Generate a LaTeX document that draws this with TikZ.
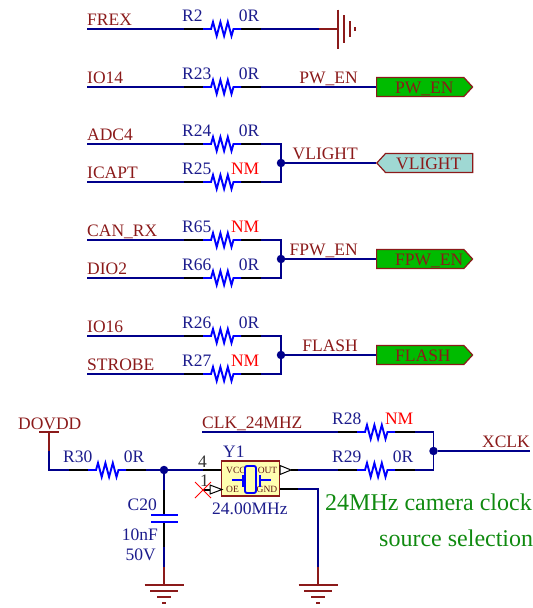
\documentclass[tikz,border=0pt]{standalone}
\usepackage{fontspec}
\setmainfont{Liberation Serif}
\usepackage{xcolor}
\usetikzlibrary{shapes,positioning,calc}
\definecolor{wirecol}{HTML}{00008B}
\definecolor{rescol}{HTML}{0000FF}
\definecolor{netcol}{HTML}{8B1A1A}
\definecolor{partcol}{HTML}{1C1C8C}
\definecolor{flaggreen}{HTML}{00BB00}
\definecolor{flagteal}{HTML}{9FD8D3}
\definecolor{xtalfill}{HTML}{FFFFB0}
\definecolor{notecol}{HTML}{108A10}
\tikzset{
  wire/.style={draw=wirecol,line width=1.9pt},
  lead/.style={draw=black,line width=1.9pt},
  body/.style={draw=rescol,line width=1.9pt},
  pwr/.style={draw=netcol,line width=1.9pt},
  txt/.style={inner sep=0pt,font=\fontsize{17.5}{17.5}\selectfont},
  nettxt/.style={txt,text=netcol},
  parttxt/.style={txt,text=partcol},
  nmtxt/.style={txt,text=red},
  pintxt/.style={inner sep=0pt,text=netcol!70!black,font=\fontsize{9.5}{9.5}\selectfont},
  flag/.style={signal,draw=netcol,line width=1.2pt,inner sep=0pt,minimum width=96pt,minimum height=19pt,
    signal pointer angle=95},
  junct/.style={circle,fill=wirecol,inner sep=0pt,minimum size=8.5pt},
}
% name, x, y, designator, value, value style
\newcommand{\res}[7][2]{
  \coordinate (#2-l) at (#3,#4);
  \coordinate (#2-r) at ($(#2-l)+(77,0)$);
  \draw[lead] (#2-l) -- ++(19,0);
  \draw[lead] (#2-r) -- ++(-20,0);
  \draw[body,line join=miter] ($(#2-l)+(19,0)$) -- ++(8,0) -- ++(2,-7) -- ++(3.7,14) -- ++(3.7,-14) -- ++(3.7,14)
    -- ++(3.7,-14) -- ++(3.7,14) -- ++(2,-7) -- (#2-r -| {$(#2-l)+(57,0)$});
  \node[parttxt,anchor=base west] (#2-des) at ($(#2-l)+(-#1,-8)$) {#5};
  \node[#7,anchor=base east] (#2-val) at ($(#2-l)+(75.5,-8)$) {#6};
}
% name, x, y
\newcommand{\gnd}[3]{
  \coordinate (#1) at (#2,#3);
  \foreach \dy/\hw in {0/19.5,6/14,12/7,18/2}
    \draw[pwr] ($(#1)+(-\hw,\dy)$) -- ($(#1)+(\hw,\dy)$);
}
\begin{document}
\begin{tikzpicture}[x=1pt,y=-1pt]
  \clip (0,0) rectangle (533,608);
  % input rows
  \foreach \rname/\yy/\net/\des/\val/\vst in {r2/29/FREX/R2/0R/parttxt,r23/87/IO14/R23/0R/parttxt,
      r24/144/ADC4/R24/0R/parttxt,r25/182/ICAPT/R25/NM/nmtxt,
      r65/240/CAN\_RX/R65/NM/nmtxt,r66/278/DIO2/R66/0R/parttxt,
      r26/336/IO16/R26/0R/parttxt,r27/374/STROBE/R27/NM/nmtxt} {
    \res{\rname}{184}{\yy}{\des}{\val}{\vst}
    \coordinate (in-\rname) at (87,\yy);
    \node[nettxt,anchor=base west] (net-\rname) at (87,\yy-4) {\net};
    \draw[wire] (in-\rname) -- (\rname-l);
  }
  % ground on the first row
  \coordinate (gtop-w) at (319,29);
  \coordinate (gtop) at (338,29);
  \draw[wire] (r2-r) -- (gtop-w);
  \draw[pwr] (gtop-w) -- (gtop);
  \foreach \dx/\hw in {0/19.5,6/14,12/8,17/2}
    \draw[pwr] ($(gtop)+(\dx,-\hw)$) -- ($(gtop)+(\dx,\hw)$);
  % flags
  \node[flag,signal to=east,anchor=west,fill=flaggreen] (fpw) at (376,87) {};
  \node[flag,signal to=west,anchor=west,fill=flagteal] (fvl) at (376,163) {};
  \node[flag,signal to=east,anchor=west,fill=flaggreen] (ffpw) at (376,259) {};
  \node[flag,signal to=east,anchor=west,fill=flaggreen] (ffl) at (376,355) {};
  \node[nettxt,anchor=base west] (fpw-txt) at (395,93) {PW\_EN};
  \node[nettxt,anchor=base west] (fvl-txt) at (396,169) {VLIGHT};
  \node[nettxt,anchor=base west] (ffpw-txt) at (395,265) {FPW\_EN};
  \node[nettxt,anchor=base west] (ffl-txt) at (395,361) {FLASH};
  \draw[wire] (r23-r) -- (fpw.west);
  \node[nettxt,anchor=base east] (lpw) at (358,83) {PW\_EN};
  \node[junct] (jvl) at (281,163) {};
  \node[junct] (jfpw) at (281,259) {};
  \node[junct] (jfl) at (281,355) {};
  \draw[wire] (r24-r) -| (jvl.center) |- (r25-r);
  \draw[wire] (r65-r) -| (jfpw.center) |- (r66-r);
  \draw[wire] (r26-r) -| (jfl.center) |- (r27-r);
  \draw[wire] (jvl) -- (fvl.west);
  \draw[wire] (jfpw) -- (ffpw.west);
  \draw[wire] (jfl) -- (ffl.west);
  \node[nettxt,anchor=base east] (lvl) at (358,159) {VLIGHT};
  \node[nettxt,anchor=base east] (lfpw) at (358,255) {FPW\_EN};
  \node[nettxt,anchor=base east] (lfl) at (358,351) {FLASH};
  % supply and R30
  \node[nettxt,anchor=base west] (dovdd) at (18,429) {DOVDD};
  \coordinate (dv) at (49,432);
  \coordinate (dv-w) at (49,451);
  \draw[pwr] (39,432) -- (59,432);
  \draw[pwr] (dv) -- (dv-w);
  \res[6]{r30}{69}{470}{R30}{0R}{parttxt}
  \draw[wire] (dv-w) |- (r30-l);
  % C20
  \node[junct] (jc) at (164,470) {};
  \coordinate (c-t) at (164,515);
  \coordinate (c-b) at (164,522);
  \draw[wire] (r30-r) -- (jc);
  \draw[wire] (jc) -- (164,490);
  \draw[lead] (164,490) -- (c-t);
  \draw[lead] (c-b) -- (164,547);
  \draw[body] (151,515) -- (178,515);
  \draw[body] (151,522) -- (178,522);
  \draw[wire] (164,547) -- (164,567);
  \gnd{gc}{164}{585}
  \draw[pwr] (164,567) -- (gc);
  \node[parttxt,anchor=base east] (c20) at (157,510) {C20};
  \node[parttxt,anchor=base east] (c20v) at (158,540) {10nF};
  \node[parttxt,anchor=base east] (c20u) at (156,560) {50V};
  % Y1
  \node[draw=netcol,line width=1.2pt,fill=xtalfill,minimum width=58pt,minimum height=35pt,inner sep=0pt] (y1) at (250.5,478.5) {};
  \node[pintxt,anchor=west] (pvcc) at (226,470) {VCC};
  \node[pintxt,anchor=west] (poe) at (226,489) {OE};
  \node[pintxt,anchor=east] (pout) at (277.5,470) {OUT};
  \node[pintxt,anchor=east] (pgnd) at (277.5,489) {GND};
  \draw[body,rounded corners=2pt] (245,466) rectangle (256,493);
  \draw[body] (243,475) -- (243,487);
  \draw[body] (232,480) -- (243,480);
  \draw[body] (260,475) -- (260,487);
  \draw[body] (260,480) -- (271,480);
  \node[parttxt,anchor=base west] (y1des) at (223,457) {Y1};
  \node[parttxt,anchor=base west] (y1val) at (212,514) {24.00MHz};
  \node[txt,anchor=base west,text=black!80] (pin4) at (198,467) {4};
  \node[txt,anchor=base west,text=black!80] (pin1) at (200,486) {1};
  % Y1 pins
  \coordinate (oe-x) at (203,490);
  \coordinate (out-p) at (298,470);
  \coordinate (gnd-p) at (298,489);
  \draw[wire] (jc) -- (203,470);
  \draw[lead] (203,470) -- (y1.west |- 0,470);
  \draw[black,line width=1pt] (222,489.5) -- (210,485) -- (210,494) -- cycle;
  \draw[lead] (oe-x) -- (210,490);
  \draw[red,line width=1pt] ($(oe-x)+(-8,-8)$) -- ($(oe-x)+(8,8)$);
  \draw[red,line width=1pt] ($(oe-x)+(-8,8)$) -- ($(oe-x)+(8,-8)$);
  \draw[black,line width=1pt] (291,470) -- (280,465.5) -- (280,474.5) -- cycle;
  \draw[lead] (291,470) -- (out-p);
  \draw[lead] (280,489) -- (gnd-p);
  \gnd{gy}{318}{585}
  \draw[wire] (gnd-p) -| (318,567);
  \draw[pwr] (318,567) -- (gy);
  % clock select
  \res[6]{r28}{338}{432}{R28}{NM}{nmtxt}
  \res[6]{r29}{338}{470}{R29}{0R}{parttxt}
  \coordinate (clk) at (202,432);
  \node[nettxt,anchor=base west] (clktxt) at (202,428) {CLK\_24MHZ};
  \draw[wire] (clk) -- (r28-l);
  \draw[wire] (out-p) -- (r29-l);
  \node[junct] (jx) at (433.5,451) {};
  \draw[wire] (r28-r) -| (jx.center) |- (r29-r);
  \coordinate (xclk) at (530,451);
  \draw[wire] (jx) -- (xclk);
  \node[nettxt,anchor=base east] (xclktxt) at (530,447) {XCLK};
  \node[txt,anchor=base west,text=notecol,font=\fontsize{24}{24}\selectfont] (note1) at (325,510) {24MHz camera clock};
  \node[txt,anchor=base west,text=notecol,font=\fontsize{24}{24}\selectfont] (note2) at (379,546) {source selection};
\end{tikzpicture}
\end{document}
